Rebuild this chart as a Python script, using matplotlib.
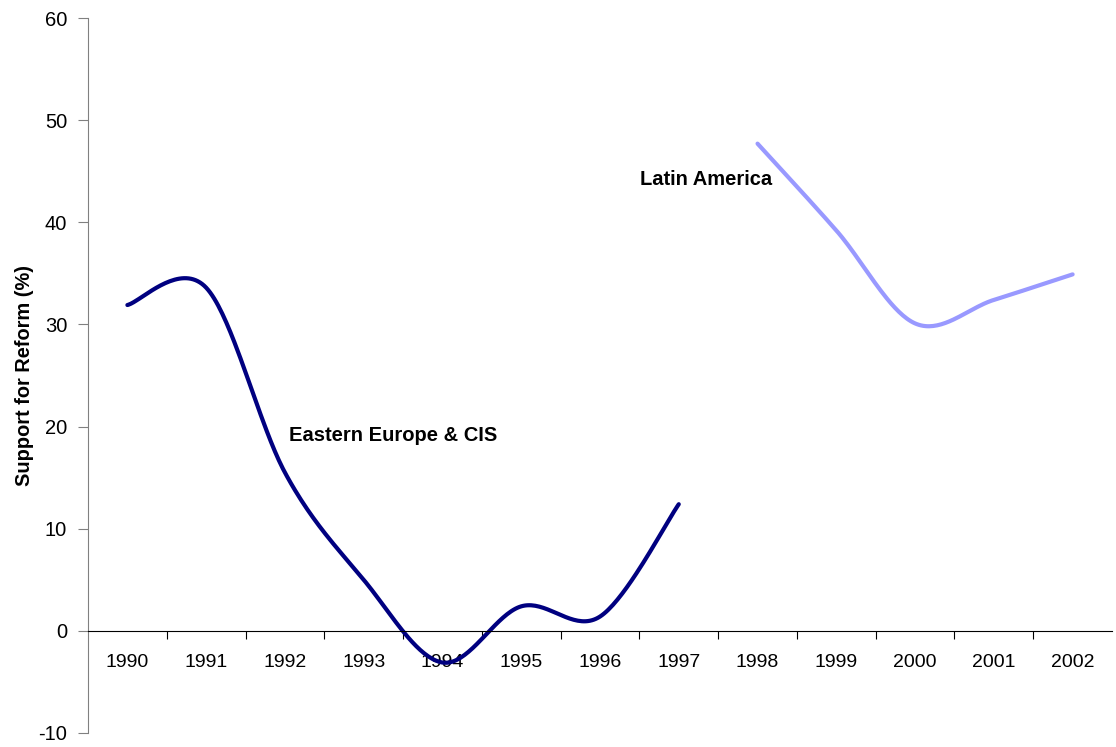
import numpy as np
import matplotlib.pyplot as plt

plt.rcParams['font.family'] = ['Liberation Sans', 'DejaVu Sans']
plt.rcParams['axes.unicode_minus'] = False

years = ['1990', '1991', '1992', '1993', '1994', '1995', '1996',
         '1997', '1998', '1999', '2000', '2001', '2002']

# Eastern Europe & CIS, 1990-1997
eeurope = [31.9, 33.6, 15.5, 5.0, -3.1, 2.4, 1.4, 12.4]
# Latin America, 1998-2002
latam = [47.7, 39.2, 30.1, 32.4, 34.9]


def smooth(xs, ys, n=40):
    """Bezier smoothing through every point, like a spreadsheet 'smoothed line'."""
    xs = np.asarray(xs, float)
    ys = np.asarray(ys, float)
    px = np.concatenate([[xs[0]], xs, [xs[-1]]])
    py = np.concatenate([[ys[0]], ys, [ys[-1]]])
    out_x, out_y = [], []
    t = np.linspace(0, 1, n)
    for i in range(1, len(px) - 2):
        x0, x1, x2, x3 = px[i - 1], px[i], px[i + 1], px[i + 2]
        y0, y1, y2, y3 = py[i - 1], py[i], py[i + 1], py[i + 2]
        c1x, c1y = x1 + (x2 - x0) / 6, y1 + (y2 - y0) / 6
        c2x, c2y = x2 - (x3 - x1) / 6, y2 - (y3 - y1) / 6
        bx = (1 - t) ** 3 * x1 + 3 * (1 - t) ** 2 * t * c1x + 3 * (1 - t) * t ** 2 * c2x + t ** 3 * x2
        by = (1 - t) ** 3 * y1 + 3 * (1 - t) ** 2 * t * c1y + 3 * (1 - t) * t ** 2 * c2y + t ** 3 * y2
        out_x.extend(bx)
        out_y.extend(by)
    return np.array(out_x), np.array(out_y)


fig = plt.figure(figsize=(11.16, 7.47), dpi=100)
ax = fig.add_axes([88 / 1116, 14 / 747, 1024 / 1116, 715 / 747])

x_ee = np.arange(len(eeurope))
x_la = np.arange(len(latam)) + 8

sx, sy = smooth(x_ee, eeurope)
ax.plot(sx, sy, color='#000080', lw=3, solid_capstyle='round')
sx, sy = smooth(x_la, latam)
ax.plot(sx, sy, color='#9999FF', lw=3, solid_capstyle='round')

ax.text(2.05, 19.1, 'Eastern Europe & CIS', fontsize=14.5, fontweight='bold',
        va='center', ha='left')
ax.text(6.51, 44.2, 'Latin America', fontsize=14.5, fontweight='bold',
        va='center', ha='left')

ax.set_xlim(-0.5, len(years) - 0.5)
ax.set_ylim(-10, 60)
ax.set_yticks(np.arange(-10, 61, 10))
ax.tick_params(axis='y', labelsize=14.5, direction='out', length=7,
               color='#808080', pad=8)

# category boundaries carry the tick marks, labels sit at centres
ax.set_xticks(np.arange(0.5, len(years) - 0.5, 1))
ax.set_xticklabels([])
ax.tick_params(axis='x', which='major', direction='out', length=6, color='black')
ax.set_xticks(np.arange(len(years)), minor=True)
ax.set_xticklabels(years, minor=True)
ax.tick_params(axis='x', which='minor', length=0, labelsize=14, pad=17)

ax.spines['top'].set_visible(False)
ax.spines['right'].set_visible(False)
ax.spines['left'].set_color('#808080')
ax.spines['bottom'].set_position(('data', 0))
ax.spines['bottom'].set_color('black')

ax.set_ylabel('Support for Reform (%)', fontsize=14.4, fontweight='bold', labelpad=3)

fig.savefig('out.png', dpi=100)
